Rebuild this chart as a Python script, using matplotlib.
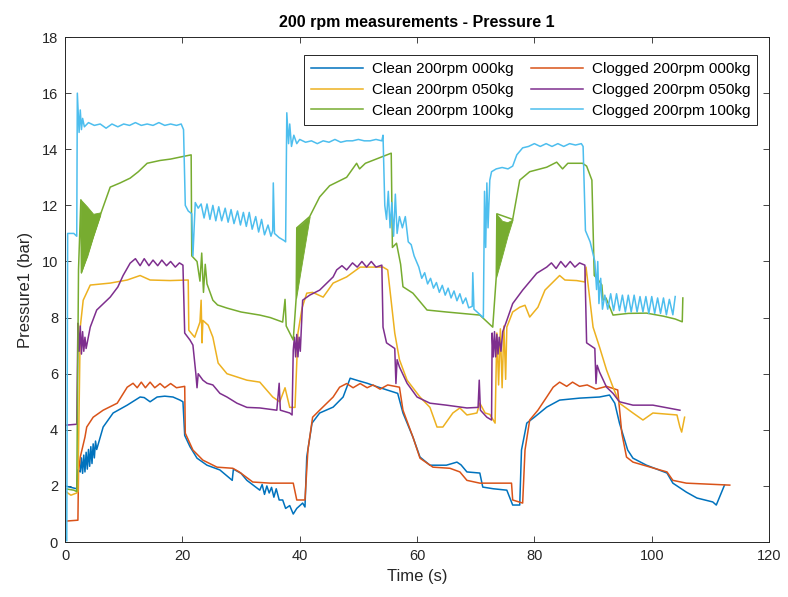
import matplotlib.pyplot as plt

plt.rcParams['font.family'] = ['Liberation Sans', 'DejaVu Sans']

title = '200 rpm measurements - Pressure 1'
x_label = 'Time (s)'
y_label = 'Pressure1 (bar)'
x_ticks = [0, 20, 40, 60, 80, 100, 120]
y_ticks = [0, 2, 4, 6, 8, 10, 12, 14, 16, 18]

# (time in s, pressure in bar)
clean_000 = [
    (0, 2.0), (1, 1.95), (2.0, 1.9), (2.2, 2.57), (2.6, 2.5), (2.8, 3.0), (3.0, 2.45), (3.2, 3.1),
    (3.4, 2.5), (3.6, 3.2), (3.8, 2.6), (4.0, 3.3), (4.2, 2.7), (4.4, 3.4), (4.6, 2.8), (4.8, 3.5),
    (5.0, 3.0), (5.2, 3.6), (5.4, 3.3), (6.5, 4.1), (8.2, 4.6), (10.6, 4.88), (12.8, 5.17),
    (13.5, 5.15), (14.5, 5.0), (15.7, 5.17), (17, 5.2), (18.4, 5.17), (19.6, 5.06), (20.1, 5.0),
    (20.4, 3.8), (21.3, 3.4), (22.5, 2.99), (24.2, 2.74), (26.4, 2.57), (28.5, 2.2), (28.7, 2.6),
    (30, 2.45), (31, 2.2), (33.2, 1.85), (33.6, 2.05), (34, 1.7), (34.4, 2.0), (34.8, 1.75),
    (35.2, 1.95), (35.6, 1.6), (36, 1.9), (36.5, 1.5), (37.1, 1.5), (37.6, 1.2), (38.3, 1.3),
    (38.9, 1.0), (39.5, 1.2), (40.5, 1.39), (40.9, 1.25), (41.2, 3.03), (42.1, 4.24), (43.4, 4.6),
    (45.7, 4.81), (47.4, 5.17), (48.6, 5.84), (50, 5.75), (51.5, 5.66), (53, 5.55), (54.9, 5.42),
    (56.7, 5.3), (57.6, 4.6), (59.3, 3.74), (60.5, 3.03), (62.2, 2.74), (65, 2.74), (66.8, 2.85),
    (67.5, 2.75), (68.5, 2.5), (70.7, 2.46), (71.2, 1.96), (73, 1.9), (75.3, 1.85), (76.3, 1.32),
    (77.5, 1.32), (77.8, 3.28), (78.7, 4.24), (80, 4.45), (82.1, 4.81), (84.3, 5.06), (87.7, 5.13),
    (91.1, 5.17), (92.8, 5.24), (93.7, 4.95), (94.5, 4.24), (95.9, 3.28), (96.8, 2.99), (99.1, 2.74),
    (102.6, 2.46), (103.6, 2.1), (105.9, 1.78), (107.7, 1.57), (110.4, 1.43), (111, 1.32),
    (112.4, 2.03),
]

clean_050 = [
    (0, 1.82), (1.0, 1.67), (2.0, 1.75), (2.2, 1.8), (2.6, 7.66), (3.1, 8.62), (4.3, 9.16),
    (7.7, 9.23), (10.6, 9.34), (12.8, 9.5), (14.5, 9.34), (17.9, 9.32), (21, 9.34), (21.1, 7.55),
    (22.1, 7.3), (23, 7.84), (23.2, 8.62), (23.35, 7.1), (23.5, 7.9), (24.4, 7.73), (25.2, 7.3),
    (26.1, 6.38), (27.6, 6.0), (31, 5.77), (33.2, 5.7), (35.4, 5.17), (36.6, 5.0), (37.5, 5.5),
    (38.3, 4.8), (39.2, 4.8), (39.7, 7.45), (40.4, 8.34), (41.2, 8.87), (42.2, 8.9), (44, 8.73),
    (45.7, 9.23), (48, 9.45), (50.3, 9.8), (54.2, 9.8), (55, 9.7), (56.2, 7.45), (57, 6.5),
    (58.3, 5.77), (60.5, 5.17), (62.2, 4.8), (63.4, 4.1), (64.4, 4.1), (66.1, 4.6), (67.3, 4.78),
    (68.5, 4.53), (70.2, 4.6), (70.7, 4.95), (71.6, 4.6), (72.4, 4.55), (73.3, 4.24), (73.6, 7.45),
    (73.9, 5.6), (74.2, 7.6), (74.5, 5.5), (74.8, 7.7), (75.1, 5.8), (75.3, 7.66), (76.3, 8.2),
    (77.5, 8.37), (78.4, 8.44), (79.2, 8.02), (80.6, 8.37), (81.8, 8.98), (83, 9.23), (84.3, 9.5),
    (85.2, 9.34), (87.2, 9.32), (88.6, 9.27), (88.8, 9.8), (90, 7.66), (91.1, 6.95), (92.3, 6.13),
    (93.4, 5.52), (94.5, 4.95), (96.8, 4.6), (98.5, 4.35), (100.2, 4.6), (104.3, 4.53), (104.8, 4.1),
    (105.1, 3.92), (105.6, 4.45),
]

clean_100 = [
    (0, 1.9), (1.5, 1.85), (2.0, 1.8), (2.3, 9.7), (2.7, 12.2), (2.8, 9.6), (6.0, 11.65),
    (7.7, 12.65), (9.4, 12.8), (11.1, 12.97), (12.5, 13.2), (14, 13.5), (16.2, 13.6), (18, 13.65),
    (19.6, 13.72), (21.5, 13.8), (21.6, 10.2), (22.5, 10.0), (23, 9.3), (23.3, 10.3), (23.6, 8.9),
    (23.9, 9.9), (24.2, 9.2), (25.2, 8.62), (26, 8.45), (27.6, 8.34), (30, 8.2), (33.2, 8.09),
    (35, 8.0), (37.1, 7.84), (37.5, 8.65), (37.7, 7.7), (38.9, 7.2), (39.4, 8.7), (39.5, 11.2),
    (41.7, 11.6), (43.4, 12.3), (45.1, 12.7), (48, 13.0), (49.7, 13.5), (50.2, 13.3), (51.2, 13.5),
    (55.6, 13.86), (55.8, 10.5), (56.5, 10.65), (57.2, 9.9), (57.6, 9.1), (59.3, 8.87), (61.7, 8.27),
    (65, 8.2), (70.7, 8.09), (72.9, 7.66), (73.5, 9.45), (73.6, 11.7), (76.3, 11.5), (77.5, 12.9),
    (79.2, 13.2), (82.1, 13.36), (83.8, 13.54), (84.8, 13.3), (85.7, 13.5), (88.2, 13.5),
    (88.9, 13.4), (89.8, 12.9), (90.2, 9.5), (90.8, 9.37), (91.5, 9.16), (91.7, 8.62), (92.2, 8.7),
    (93.4, 8.09), (96, 8.15), (99.1, 8.16), (102, 8.05), (104, 7.95), (105.2, 7.85), (105.3, 8.7),
]

# envelopes of the dense oscillation right after each start-up
wedge_times = [
    [2.7, 3.8, 4.8, 6.0],
    [39.4, 40.1, 40.9, 41.7],
    [73.5, 74.5, 75.4, 76.3],
]
wedge_upper = [
    [12.2, 11.95, 11.7, 11.75],
    [11.2, 11.3, 11.45, 11.6],
    [11.7, 11.45, 11.4, 11.5],
]
wedge_lower = [
    [9.6, 10.2, 10.9, 11.65],
    [8.7, 9.6, 10.6, 11.6],
    [9.45, 10.2, 10.9, 11.5],
]

clogged_000 = [
    (0.3, 0.75), (2.2, 0.78), (2.3, 2.5), (2.6, 3.03), (3.4, 3.74), (3.7, 4.1), (4.8, 4.45),
    (6.5, 4.7), (8.9, 4.95), (10.6, 5.52), (11.6, 5.66), (12.3, 5.5), (13, 5.7), (13.7, 5.5),
    (14.5, 5.7), (15.3, 5.5), (16.2, 5.65), (17, 5.5), (18, 5.65), (19, 5.5), (20.4, 5.55),
    (20.5, 3.88), (21.8, 3.28), (23.5, 2.92), (25.9, 2.67), (28.6, 2.63), (29.7, 2.5), (32, 2.14),
    (35, 2.1), (38.9, 2.1), (39.5, 1.5), (40.9, 1.5), (41.4, 3.28), (42.2, 4.45), (43.4, 4.7),
    (45.7, 5.17), (46.8, 5.52), (48, 5.65), (49.1, 5.5), (50.3, 5.65), (51.5, 5.5), (52.5, 5.6),
    (53.7, 5.45), (55, 5.6), (57, 5.52), (57.6, 4.7), (59.3, 3.74), (60.5, 2.99), (62.7, 2.67),
    (65.6, 2.63), (67.3, 2.5), (68.5, 2.2), (70.7, 2.1), (76.1, 2.1), (76.3, 1.5), (78, 1.39),
    (78.4, 3.28), (79.2, 4.35), (80.6, 4.7), (82.1, 5.17), (83.2, 5.52), (84.3, 5.7), (85.5, 5.55),
    (86.5, 5.7), (87.7, 5.55), (89, 5.6), (90.5, 5.45), (92.3, 5.55), (94.2, 5.42), (94.9, 3.88),
    (95.7, 3.03), (96.8, 2.85), (101.4, 2.57), (102.6, 2.5), (103.6, 2.2), (105.9, 2.1),
    (113.3, 2.03),
]

clogged_050 = [
    (0.3, 4.17), (2.0, 4.2), (2.2, 7.8), (2.4, 6.8), (2.6, 7.7), (2.8, 6.7), (3.0, 7.5), (3.2, 6.8),
    (3.4, 7.3), (3.6, 6.9), (4.3, 7.66), (5.4, 8.27), (7.7, 8.73), (9, 9.09), (9.9, 9.5),
    (11.1, 9.94), (12, 10.1), (12.8, 9.85), (13.5, 10.1), (14.3, 9.85), (15, 10.05), (15.8, 9.85),
    (16.5, 10.05), (17.3, 9.85), (18, 10.0), (18.8, 9.8), (19.5, 9.95), (20.1, 9.87), (20.4, 7.45),
    (21.3, 7.2), (21.8, 7.02), (22.3, 6.0), (22.5, 5.5), (22.7, 6.0), (23.5, 5.77), (24.2, 5.66),
    (25.2, 5.6), (26.4, 5.3), (27.6, 5.17), (29.3, 4.95), (31, 4.8), (33.2, 4.78), (36.1, 4.7),
    (36.5, 5.66), (36.7, 4.7), (38.3, 4.6), (38.7, 4.53), (38.9, 6.84), (39.1, 7.3), (39.3, 6.6),
    (39.5, 7.4), (39.7, 6.6), (39.9, 7.3), (40.1, 6.8), (40.5, 8.62), (41.7, 8.8), (43.4, 8.98),
    (45.7, 9.45), (46.3, 9.7), (47.2, 9.85), (48, 9.7), (49, 9.95), (49.8, 9.8), (50.6, 10.0),
    (51.4, 9.8), (52.2, 10.0), (53, 9.8), (54, 9.87), (54.2, 7.66), (54.8, 7.1), (56.2, 6.9),
    (56.4, 5.65), (56.6, 6.5), (57, 6.24), (58.3, 5.66), (60, 5.17), (62.2, 4.95), (65, 4.88),
    (68.5, 4.78), (70.4, 4.8), (70.6, 5.77), (70.8, 4.7), (71.9, 4.45), (72.7, 4.35), (72.8, 7.45),
    (73.0, 6.6), (73.2, 7.5), (73.4, 6.6), (73.6, 7.4), (73.8, 6.7), (74.0, 7.3), (74.3, 6.8),
    (74.6, 7.5), (75.3, 7.9), (76.3, 8.5), (78, 8.98), (80.4, 9.58), (82.1, 9.8), (82.9, 9.95),
    (83.7, 9.75), (84.5, 10.0), (85.3, 9.8), (86.1, 10.0), (86.9, 9.8), (87.7, 9.95), (88.6, 9.87),
    (88.9, 7.1), (90.3, 6.9), (90.5, 5.65), (90.7, 6.3), (91.1, 6.06), (92.3, 5.52), (93.4, 5.3),
    (94.5, 5.0), (96.8, 4.88), (100.2, 4.88), (104.8, 4.7),
]

clogged_100 = [
    (0.3, 0.05), (0.45, 11.0), (1.5, 11.0), (2.0, 10.9), (2.1, 16.0), (2.4, 14.6), (2.6, 15.4),
    (2.8, 14.7), (3.0, 15.1), (3.3, 14.8), (4, 14.95), (5, 14.85), (6, 14.9), (7, 14.75), (8, 14.9),
    (9, 14.8), (10, 14.9), (11, 14.85), (12, 14.95), (13, 14.85), (14, 14.9), (15, 14.85),
    (16, 14.95), (17, 14.85), (18, 14.9), (19, 14.85), (19.8, 14.9), (20.2, 14.7), (20.5, 12.0),
    (21, 11.8), (21.6, 11.7), (21.8, 10.2), (22.2, 12.1), (22.7, 11.9), (23.2, 12.05), (23.7, 11.55),
    (24.2, 12.05), (24.7, 11.5), (25.2, 12.0), (25.7, 11.45), (26.2, 11.95), (26.7, 11.45),
    (27.3, 11.9), (27.8, 11.4), (28.3, 11.85), (28.8, 11.35), (29.4, 11.8), (29.9, 11.3),
    (30.4, 11.75), (30.9, 11.25), (31.4, 11.75), (31.9, 11.15), (32.5, 11.6), (33.0, 11.05),
    (33.5, 11.5), (34.0, 10.95), (34.6, 11.3), (35.1, 10.9), (35.4, 11.1), (35.5, 12.8), (35.7, 11.0),
    (36.5, 10.85), (37.3, 10.75), (37.6, 10.7), (37.8, 15.3), (38.1, 14.2), (38.3, 14.9),
    (38.6, 14.1), (39, 14.5), (39.5, 14.2), (40, 14.35), (41, 14.25), (42, 14.3), (43, 14.2),
    (44, 14.3), (45, 14.25), (46, 14.35), (47, 14.25), (48, 14.3), (49, 14.3), (50, 14.35),
    (51, 14.3), (52, 14.3), (53, 14.35), (54, 14.3), (54.2, 14.5), (54.5, 12.0), (54.8, 11.5),
    (55.1, 12.5), (55.4, 11.2), (55.7, 12.1), (56.0, 10.9), (56.3, 12.4), (56.6, 11.0), (57.0, 11.6),
    (57.5, 11.2), (58.0, 11.6), (58.5, 10.7), (59.0, 10.6), (59.5, 10.2), (60.3, 9.8), (60.8, 9.4),
    (61.3, 9.6), (61.8, 9.2), (62.3, 9.4), (62.8, 9.05), (63.3, 9.25), (63.8, 8.9), (64.3, 9.15),
    (64.8, 8.8), (65.3, 9.05), (65.8, 8.7), (66.3, 8.95), (66.8, 8.6), (67.3, 8.85), (67.8, 8.5),
    (68.3, 8.7), (68.8, 8.35), (69.4, 8.4), (69.5, 9.6), (69.7, 8.3), (70.5, 8.15), (71.3, 8.0),
    (71.5, 12.5), (71.7, 10.5), (71.9, 12.8), (72.1, 11.2), (72.4, 12.9), (72.7, 13.2), (73.5, 13.3),
    (74.5, 13.35), (75.5, 13.3), (76.3, 13.4), (77, 13.8), (78, 14.05), (79, 14.1), (80, 14.2),
    (81, 14.1), (82, 14.2), (83, 14.1), (84, 14.2), (85, 14.1), (86, 14.2), (87, 14.15), (88, 14.2),
    (88.3, 14.1), (88.7, 11.1), (89.5, 10.7), (90.3, 10.0), (90.6, 9.0), (90.8, 10.0), (91, 8.5),
    (91.3, 9.4), (91.6, 8.3), (92, 8.8), (92.5, 8.3), (93, 8.85), (93.5, 8.25), (94, 8.85),
    (94.5, 8.25), (95, 8.8), (95.5, 8.2), (96, 8.8), (96.5, 8.2), (97, 8.8), (97.5, 8.2),
    (98, 8.75), (98.5, 8.2), (99, 8.75), (99.5, 8.15), (100, 8.75), (100.5, 8.15), (101, 8.7),
    (101.5, 8.15), (102, 8.7), (102.5, 8.1), (103, 8.65), (103.6, 8.1), (104, 8.75),
]

series = [
    (clean_000, '#0072BD', 'Clean 200rpm 000kg'),
    (clean_050, '#EDB120', 'Clean 200rpm 050kg'),
    (clean_100, '#77AC30', 'Clean 200rpm 100kg'),
    (clogged_000, '#D95319', 'Clogged 200rpm 000kg'),
    (clogged_050, '#7E2F8E', 'Clogged 200rpm 050kg'),
    (clogged_100, '#4DBEEE', 'Clogged 200rpm 100kg'),
]
draw_order = [0, 3, 1, 4, 2, 5]

fig = plt.figure(figsize=(7.88, 5.97), dpi=100)
ax = fig.add_axes([0.0825, 0.092, 0.8935, 0.846])

handles = [None] * len(series)
for i in draw_order:
    data, color, name = series[i]
    t = [p[0] for p in data]
    v = [p[1] for p in data]
    handles[i], = ax.plot(t, v, color=color, lw=1.1, label=name)
    if i == 2:
        for wt, wu, wl in zip(wedge_times, wedge_upper, wedge_lower):
            ax.fill_between(wt, wl, wu, color=color, lw=0.6)

ax.set_xlim(0, 120)
ax.set_ylim(0, 18)
ax.set_xticks(x_ticks)
ax.set_yticks(y_ticks)
ax.tick_params(direction='in', top=True, right=True, length=4, width=0.6,
               labelsize=10.5, colors='#262626', pad=5)
for s in ax.spines.values():
    s.set_color('#262626')
    s.set_linewidth(0.7)

ax.set_xlabel(x_label, fontsize=12, color='#262626', labelpad=4)
ax.set_ylabel(y_label, fontsize=12, color='#262626', labelpad=6)
ax.set_title(title, fontsize=11.5, fontweight='bold', color='black', pad=7)

leg = ax.legend(handles=handles, ncol=2, loc='upper right', bbox_to_anchor=(0.983, 0.964),
                borderaxespad=0, fontsize=11, frameon=True, fancybox=False,
                edgecolor='#262626', handlelength=3.4, columnspacing=1.1,
                handletextpad=0.6, borderpad=0.45, labelspacing=0.45)
leg.get_frame().set_linewidth(0.7)
leg.get_frame().set_alpha(1)

fig.savefig('out.png', dpi=100)
